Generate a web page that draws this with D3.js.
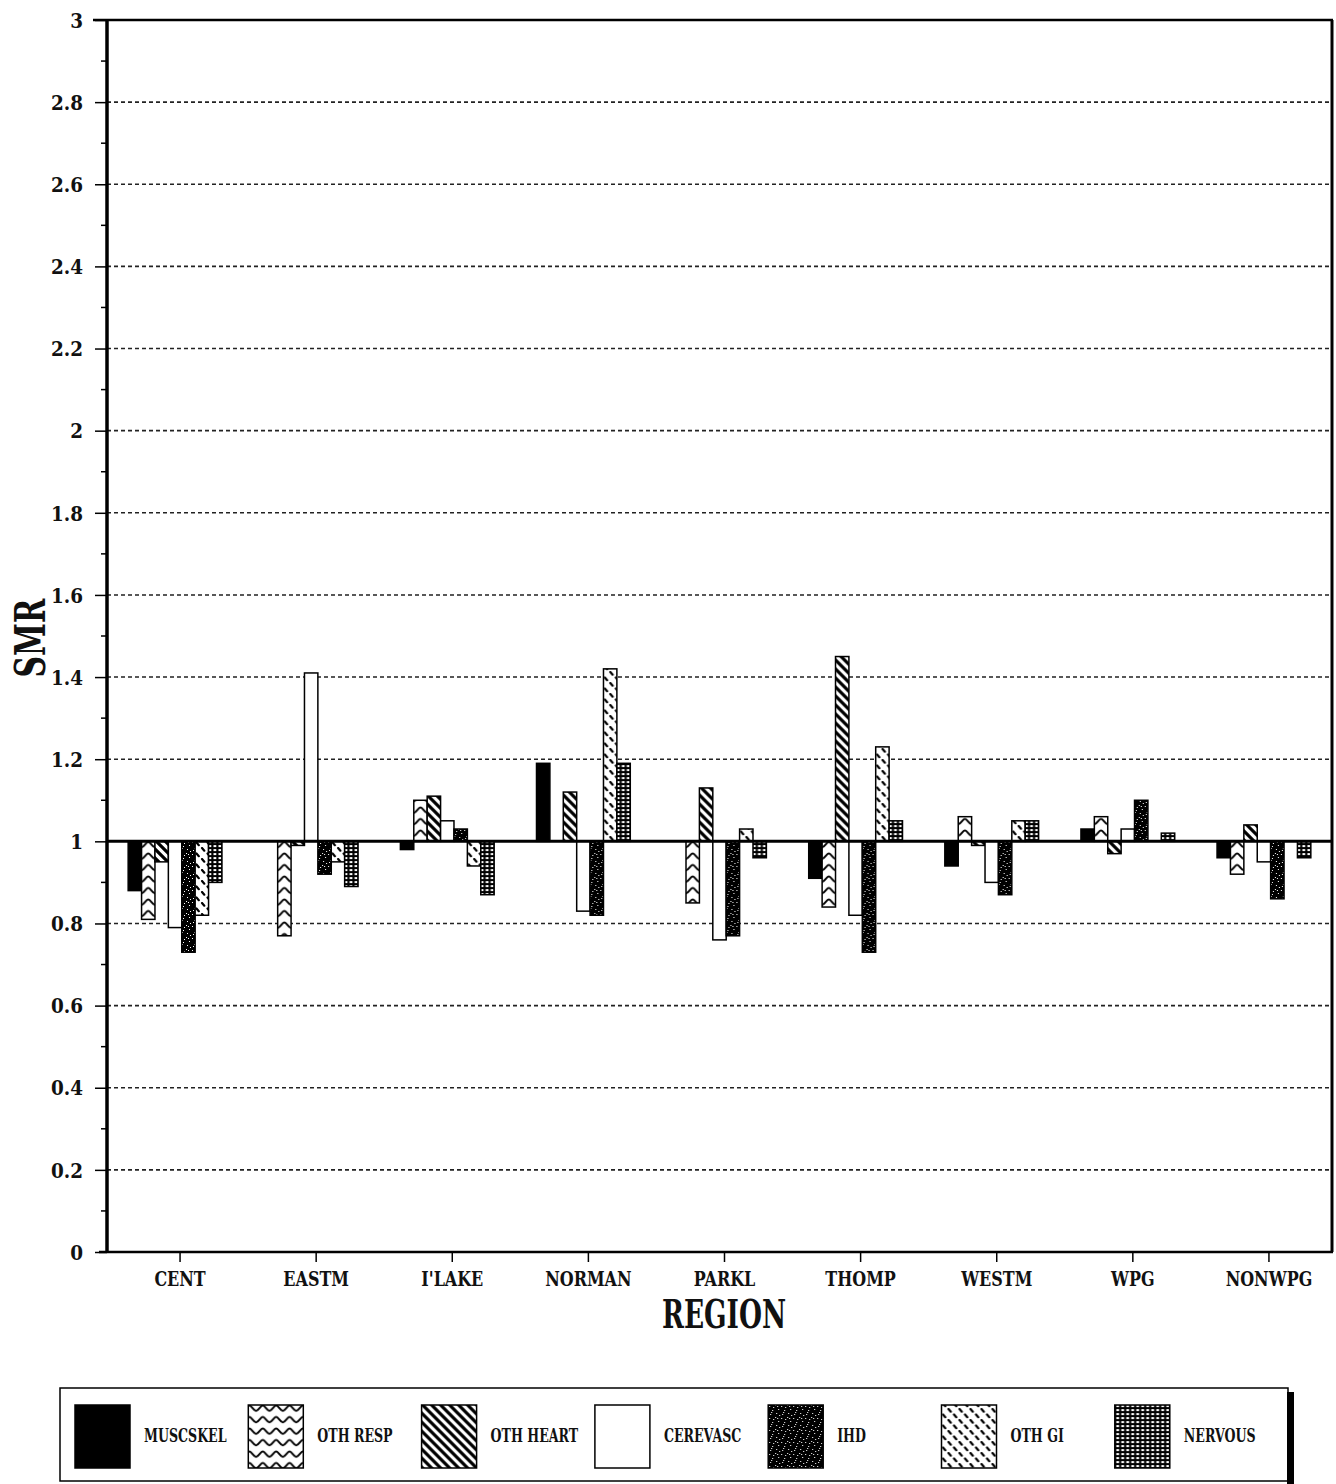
<!DOCTYPE html>
<html>
<head>
<meta charset="utf-8">
<script src="https://cdn.jsdelivr.net/npm/d3@7/dist/d3.min.js"></script>
<style>
  html, body { margin: 0; padding: 0; background: #fff; }
  svg { display: block; }
  text { font-family: "DejaVu Serif", "Liberation Serif", serif; font-weight: bold; fill: #111; }
</style>
</head>
<body>
<svg id="chart" width="1336" height="1484"></svg>
<script>
// Standardized mortality ratios by region, seven causes of death
const categories = ["CENT", "EASTM", "I'LAKE", "NORMAN", "PARKL", "THOMP", "WESTM", "WPG", "NONWPG"];
const seriesNames = ["MUSCSKEL", "OTH RESP", "OTH HEART", "CEREVASC", "IHD", "OTH GI", "NERVOUS"];
const muscskel = [0.88, 1.00, 0.98, 1.19, 1.00, 0.91, 0.94, 1.03, 0.96];
const othResp  = [0.81, 0.77, 1.10, 1.00, 0.85, 0.84, 1.06, 1.06, 0.92];
const othHeart = [0.95, 0.99, 1.11, 1.12, 1.13, 1.45, 0.99, 0.97, 1.04];
const cerevasc = [0.79, 1.41, 1.05, 0.83, 0.76, 0.82, 0.90, 1.03, 0.95];
const ihd      = [0.73, 0.92, 1.03, 0.82, 0.77, 0.73, 0.87, 1.10, 0.86];
const othGi    = [0.82, 0.95, 0.94, 1.42, 1.03, 1.23, 1.05, 1.00, 1.00];
const nervous  = [0.90, 0.89, 0.87, 1.19, 0.96, 1.05, 1.05, 1.02, 0.96];
const yTickValues = [0, 0.2, 0.4, 0.6, 0.8, 1, 1.2, 1.4, 1.6, 1.8, 2, 2.2, 2.4, 2.6, 2.8, 3];
const yTickLabels = ["0", "0.2", "0.4", "0.6", "0.8", "1", "1.2", "1.4", "1.6", "1.8", "2", "2.2", "2.4", "2.6", "2.8", "3"];
const referenceValue = 1;

const seriesValues = [muscskel, othResp, othHeart, cerevasc, ihd, othGi, nervous];
const patternIds = ["p-solid", "p-wave", "p-diag", "p-white", "p-speck", "p-dash", "p-grid"];

const svg = d3.select("#chart");
const plotLeft = 107, plotRight = 1332, plotTop = 20, plotBottom = 1252;

const y = d3.scaleLinear().domain([0, 3]).range([plotBottom, plotTop]);
const x0 = d3.scaleBand().domain(categories).range([plotLeft, plotRight]).padding(0);
const x1 = d3.scaleBand().domain(seriesNames).range([0, x0.bandwidth()]).paddingInner(0).paddingOuter(1.58);

// squeeze a text element horizontally to mimic a condensed face
function condense(sel, factor) {
  sel.each(function () {
    const len = this.getComputedTextLength();
    d3.select(this).attr("textLength", len * factor).attr("lengthAdjust", "spacingAndGlyphs");
  });
}

// ---- fill patterns ----
const defs = svg.append("defs");

defs.append("pattern").attr("id", "p-solid").attr("patternUnits", "userSpaceOnUse")
  .attr("width", 4).attr("height", 4)
  .append("rect").attr("width", 4).attr("height", 4).attr("fill", "#000");

defs.append("pattern").attr("id", "p-white").attr("patternUnits", "userSpaceOnUse")
  .attr("width", 4).attr("height", 4)
  .append("rect").attr("width", 4).attr("height", 4).attr("fill", "#fff");

// wavy rows: one crest per bar width, aligned to the bar slot
const ww = x1.bandwidth(), wh = 11.5;
const wave = defs.append("pattern").attr("id", "p-wave").attr("patternUnits", "userSpaceOnUse")
  .attr("x", x1("OTH RESP")).attr("y", 0).attr("width", ww).attr("height", wh);
wave.append("rect").attr("width", ww).attr("height", wh).attr("fill", "#fff");
wave.append("path")
  .attr("d", `M-1,8 C${ww * 0.25},8 ${ww * 0.3},2.5 ${ww / 2},2.5 C${ww * 0.7},2.5 ${ww * 0.75},8 ${ww + 1},8`)
  .attr("fill", "none").attr("stroke", "#000").attr("stroke-width", 1.9);

const diag = defs.append("pattern").attr("id", "p-diag").attr("patternUnits", "userSpaceOnUse")
  .attr("width", 9).attr("height", 9);
diag.append("rect").attr("width", 9).attr("height", 9).attr("fill", "#fff");
diag.append("path").attr("d", "M-2,-2 L11,11 M-6.5,2.5 L2.5,11.5 M2.5,-6.5 L11.5,2.5")
  .attr("stroke", "#000").attr("stroke-width", 3.2);

const speck = defs.append("pattern").attr("id", "p-speck").attr("patternUnits", "userSpaceOnUse")
  .attr("width", 12).attr("height", 12);
speck.append("rect").attr("width", 12).attr("height", 12).attr("fill", "#000");
[[1, 2], [7, 1], [4, 6], [10, 5], [2, 10], [8, 9], [5, 3], [11, 11], [9, 2], [3, 8]].forEach(([sx, sy]) => {
  speck.append("rect").attr("x", sx).attr("y", sy).attr("width", 1).attr("height", 1).attr("fill", "#fff");
});

const dash = defs.append("pattern").attr("id", "p-dash").attr("patternUnits", "userSpaceOnUse")
  .attr("width", 11).attr("height", 11);
dash.append("rect").attr("width", 11).attr("height", 11).attr("fill", "#fff");
dash.append("path").attr("d", "M1.5,6.5 L3.8,9.2 M7,1 L9.3,3.7")
  .attr("stroke", "#000").attr("stroke-width", 2.2).attr("stroke-linecap", "round");

const grid = defs.append("pattern").attr("id", "p-grid").attr("patternUnits", "userSpaceOnUse")
  .attr("width", 5).attr("height", 4);
grid.append("rect").attr("width", 5).attr("height", 4).attr("fill", "#000");
grid.append("rect").attr("x", 1.5).attr("y", 1.1).attr("width", 2.8).attr("height", 2).attr("fill", "#fff");

// ---- gridlines ----
svg.append("g").selectAll("line")
  .data(yTickValues.filter(v => v > 0 && v < 3 && v !== referenceValue))
  .join("line")
  .attr("x1", plotLeft).attr("x2", plotRight)
  .attr("y1", d => y(d)).attr("y2", d => y(d))
  .attr("stroke", "#222").attr("stroke-width", 1.6).attr("stroke-dasharray", "4,3");

// ---- bars ----
const groups = svg.append("g").selectAll("g")
  .data(categories)
  .join("g")
  .attr("transform", d => `translate(${x0(d)},0)`);

groups.selectAll("rect")
  .data((c, ci) => seriesNames.map((s, si) => ({ s, si, v: seriesValues[si][ci] })))
  .join("rect")
  .attr("x", d => x1(d.s))
  .attr("width", x1.bandwidth())
  .attr("y", d => Math.min(y(d.v), y(referenceValue)))
  .attr("height", d => Math.abs(y(d.v) - y(referenceValue)))
  .attr("fill", d => `url(#${patternIds[d.si]})`)
  .attr("stroke", "#000").attr("stroke-width", 1.5);

// ---- reference line at SMR = 1 ----
svg.append("line")
  .attr("x1", plotLeft).attr("x2", plotRight)
  .attr("y1", y(referenceValue)).attr("y2", y(referenceValue))
  .attr("stroke", "#000").attr("stroke-width", 3);

// ---- y axis ----
const yAxis = svg.append("g").attr("transform", `translate(${plotLeft},0)`)
  .call(d3.axisLeft(y).tickValues(yTickValues).tickFormat((d, i) => yTickLabels[i]).tickSize(12).tickPadding(12));
yAxis.select(".domain").remove();
yAxis.selectAll(".tick line").attr("stroke", "#000").attr("stroke-width", 1.5);
yAxis.selectAll(".tick text").style("font-size", "20px").attr("dy", "0.36em").call(condense, 0.92);

// minor ticks
svg.append("g").selectAll("line")
  .data(d3.range(0.1, 3, 0.2))
  .join("line")
  .attr("x1", plotLeft - 6).attr("x2", plotLeft)
  .attr("y1", d => y(d)).attr("y2", d => y(d))
  .attr("stroke", "#000").attr("stroke-width", 1.5);

// ---- x axis ----
const xAxis = svg.append("g").attr("transform", `translate(5,${plotBottom})`)
  .call(d3.axisBottom(x0).tickSize(10).tickPadding(11));
xAxis.select(".domain").remove();
xAxis.selectAll(".tick line").attr("stroke", "#000").attr("stroke-width", 1.5);
xAxis.selectAll(".tick text").style("font-size", "21px").attr("dy", "0.6em").call(condense, 0.76);

// ---- frame ----
const frame = svg.append("g").attr("stroke", "#000").attr("fill", "none");
frame.append("line").attr("x1", plotLeft - 14).attr("x2", plotRight + 1).attr("y1", plotTop).attr("y2", plotTop).attr("stroke-width", 2.5);
frame.append("line").attr("x1", plotRight).attr("x2", plotRight).attr("y1", plotTop).attr("y2", plotBottom).attr("stroke-width", 3);
frame.append("line").attr("x1", plotLeft - 8).attr("x2", plotRight + 1).attr("y1", plotBottom).attr("y2", plotBottom).attr("stroke-width", 2.5);
frame.append("line").attr("x1", plotLeft).attr("x2", plotLeft).attr("y1", plotTop).attr("y2", plotBottom + 1).attr("stroke-width", 3.5);

// ---- axis titles ----
svg.append("text")
  .attr("transform", `translate(45,${(plotTop + plotBottom) / 2 + 2}) rotate(-90)`)
  .attr("text-anchor", "middle")
  .attr("textLength", 79).attr("lengthAdjust", "spacingAndGlyphs")
  .style("font-size", "43px")
  .text("SMR");

svg.append("text")
  .attr("x", 724).attr("y", 1328)
  .attr("text-anchor", "middle")
  .attr("textLength", 124).attr("lengthAdjust", "spacingAndGlyphs")
  .style("font-size", "39px")
  .text("REGION");

// ---- legend ----
const legend = svg.append("g");
legend.append("rect")
  .attr("x", 60).attr("y", 1388).attr("width", 1228).attr("height", 93)
  .attr("fill", "#fff").attr("stroke", "#000").attr("stroke-width", 1.5);
legend.append("rect")
  .attr("x", 1287).attr("y", 1392).attr("width", 7).attr("height", 92).attr("fill", "#000");

const lx = d3.scaleBand().domain(seriesNames).range([75, 75 + 7 * 173.3]).padding(0);
const items = legend.selectAll("g.item")
  .data(seriesNames)
  .join("g").attr("class", "item")
  .attr("transform", d => `translate(${lx(d)},0)`);
items.append("rect")
  .attr("x", 0).attr("y", 1405).attr("width", 55).attr("height", 63)
  .attr("fill", (d, i) => `url(#${patternIds[i]})`)
  .attr("stroke", "#000").attr("stroke-width", 1.5);
items.append("text")
  .attr("x", 69).attr("y", 1442)
  .style("font-size", "18px")
  .text(d => d)
  .call(condense, 0.70);
</script>
</body>
</html>
